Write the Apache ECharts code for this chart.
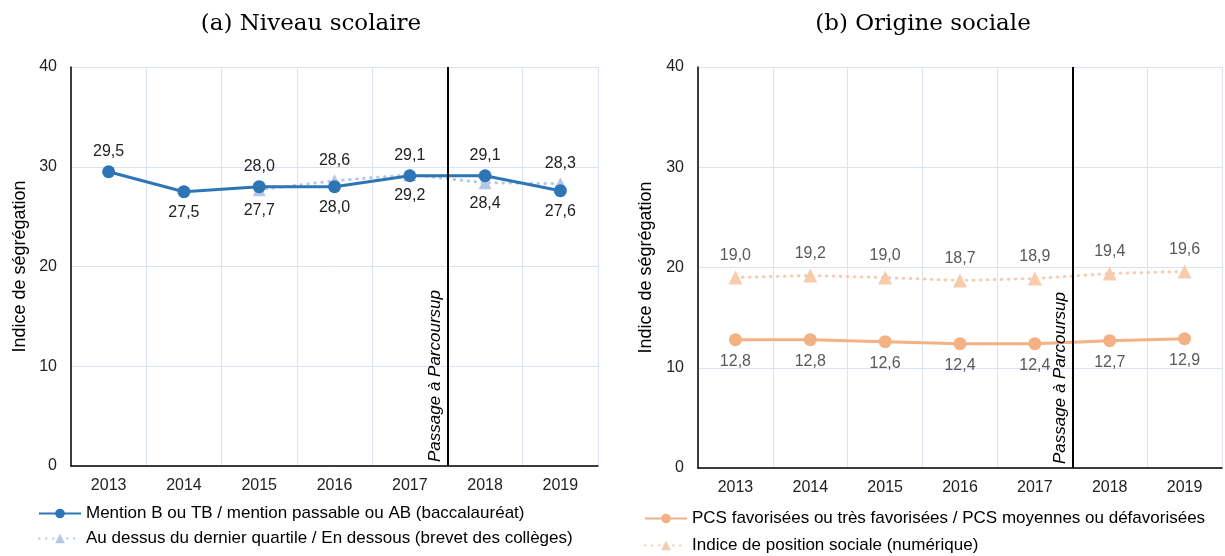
<!DOCTYPE html>
<html><head><meta charset="utf-8">
<script src="https://cdn.jsdelivr.net/npm/echarts@6/dist/echarts.min.js"></script>
<style>html,body{margin:0;padding:0;background:#fff}#c{width:1225px;height:556px}</style>
</head><body><div id="c"></div>
<script>
const years = ['2013','2014','2015','2016','2017','2018','2019'];
const titleA = '(a) Niveau scolaire';
const titleB = '(b) Origine sociale';
const yName = 'Indice de ségrégation';
const yTicks = [0, 10, 20, 30, 40];
const reformAt = 4.5; // between 2017 and 2018
const reformLabel = 'Passage à Parcoursup';

const nameA1 = 'Mention B ou TB / mention passable ou AB (baccalauréat)';
const valsA1 = [29.5, 27.5, 28.0, 28.0, 29.1, 29.1, 27.6];
const posA1 = ['top','bottom','top','bottom','top','top','bottom'];
const nameA2 = 'Au dessus du dernier quartile / En dessous (brevet des collèges)';
const valsA2 = [null, null, 27.7, 28.6, 29.2, 28.4, 28.3];
const posA2 = ['top','top','bottom','top','bottom','bottom','top'];

const nameB1 = 'PCS favorisées ou très favorisées / PCS moyennes ou défavorisées';
const valsB1 = [12.8, 12.8, 12.6, 12.4, 12.4, 12.7, 12.9];
const nameB2 = 'Indice de position sociale (numérique)';
const valsB2 = [19.0, 19.2, 19.0, 18.7, 18.9, 19.4, 19.6];

const FONT = '"Liberation Sans", Arial, sans-serif';
const fmt = v => v.toFixed(1).replace('.', ',');
const gridColor = '#dae3f3';

function mkData(vals, pos) {
  return vals.map((v, i) => v == null ? null : ({ value: v, label: { position: pos[i] } }));
}
function catAxis(gi) {
  return {
    type: 'category', gridIndex: gi, data: years, boundaryGap: true,
    axisLine: { lineStyle: { color: '#000', width: 1.5 } },
    axisTick: { show: false },
    axisLabel: { fontFamily: FONT, fontSize: 16, color: '#222', margin: 12 },
    splitLine: { show: true, lineStyle: { color: gridColor, width: 1 } }
  };
}
function valXAxis(gi) {
  return { type: 'value', gridIndex: gi, min: -0.5, max: years.length - 0.5, show: false };
}
function yAx(gi, gap) {
  return {
    type: 'value', gridIndex: gi, min: yTicks[0], max: yTicks[yTicks.length - 1], interval: 10,
    name: yName, nameLocation: 'middle', nameGap: gap,
    nameTextStyle: { fontFamily: FONT, fontSize: 18, color: '#000' },
    axisLine: { show: true, onZero: false, lineStyle: { color: '#000', width: 1.5 } },
    axisTick: { show: false },
    axisLabel: { fontFamily: FONT, fontSize: 16, color: '#222', margin: 14 },
    splitLine: { show: true, lineStyle: { color: gridColor, width: 1 } }
  };
}
function reformSeries(xi, yi) {
  return {
    type: 'line', name: 'reform', xAxisIndex: xi, yAxisIndex: yi, data: [], silent: true,
    markLine: {
      silent: true, symbol: ['none', 'none'], animation: false,
      lineStyle: { color: '#000', width: 2, type: 'solid' },
      label: { show: true, formatter: reformLabel, position: 'insideStartTop',
        fontFamily: FONT, fontSize: 17, fontStyle: 'italic', color: '#000', distance: 4 },
      data: [{ xAxis: reformAt }]
    }
  };
}
const legendText = { fontFamily: FONT, fontSize: 17, color: '#000' };
const labelBase = { show: true, formatter: p => fmt(p.value), fontFamily: FONT, fontSize: 16 };
const dots = [0.5, 6.5];

const chart = echarts.init(document.getElementById('c'), null, { renderer: 'canvas' });
chart.setOption({
  animation: false,
  backgroundColor: '#fff',
  title: [
    { text: titleA, left: 306, top: 8, textAlign: 'center',
      textStyle: { fontFamily: '"DejaVu Serif", serif', fontSize: 23, fontWeight: 'normal', color: '#000' } },
    { text: titleB, left: 918, top: 8, textAlign: 'center',
      textStyle: { fontFamily: '"DejaVu Serif", serif', fontSize: 23, fontWeight: 'normal', color: '#000' } }
  ],
  grid: [
    { left: 71, right: 627, top: 67, bottom: 90 },
    { left: 698, right: 3, top: 67, bottom: 88 }
  ],
  xAxis: [catAxis(0), valXAxis(0), catAxis(1), valXAxis(1)],
  yAxis: [yAx(0, 42), yAx(1, 43)],
  legend: [
    { data: [nameA1, nameA2], orient: 'vertical', left: 33, top: 500, height: 60, itemWidth: 42, itemHeight: 12, itemGap: 8,
      textStyle: legendText },
    { data: [nameB1, nameB2], orient: 'vertical', left: 639, top: 505, height: 60, itemWidth: 42, itemHeight: 12, itemGap: 10,
      textStyle: legendText }
  ],
  series: [
    reformSeries(1, 0),
    reformSeries(3, 1),
    { type: 'line', name: nameA2, xAxisIndex: 0, yAxisIndex: 0, data: mkData(valsA2, posA2),
      symbol: 'triangle', symbolSize: 13, color: '#b4c7e7',
      lineStyle: { type: dots, width: 3, color: '#b4c7e7', cap: 'round' },
      label: Object.assign({}, labelBase, { color: '#222', distance: 6 }) },
    { type: 'line', name: nameA1, xAxisIndex: 0, yAxisIndex: 0, data: mkData(valsA1, posA1),
      symbol: 'circle', symbolSize: 13, color: '#2e75b6',
      lineStyle: { width: 3, color: '#2e75b6' },
      label: Object.assign({}, labelBase, { color: '#222', distance: 6 }) },
    { type: 'line', name: nameB2, xAxisIndex: 2, yAxisIndex: 1, data: valsB2,
      symbol: 'triangle', symbolSize: 14, color: '#f8cbad',
      lineStyle: { type: dots, width: 3, color: '#f8cbad', cap: 'round' },
      label: Object.assign({}, labelBase, { position: 'top', color: '#595959', distance: 7 }) },
    { type: 'line', name: nameB1, xAxisIndex: 2, yAxisIndex: 1, data: valsB1,
      symbol: 'circle', symbolSize: 13, color: '#f4b183',
      lineStyle: { width: 3, color: '#f4b183' },
      label: Object.assign({}, labelBase, { position: 'bottom', color: '#595959', distance: 7 }) }
  ]
});
</script>
</body></html>
